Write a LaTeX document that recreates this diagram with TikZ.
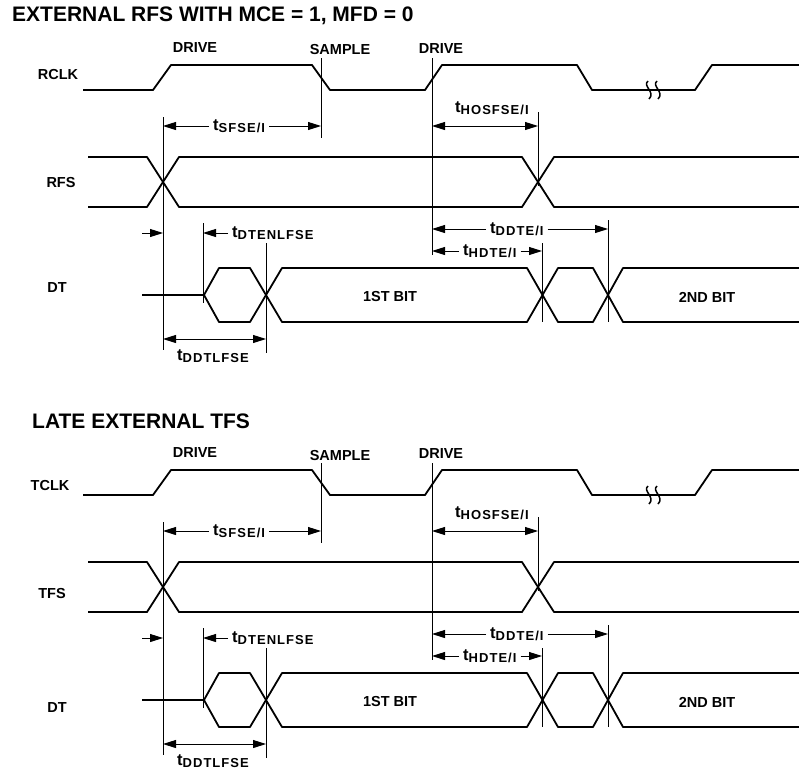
\documentclass[tikz,border=0pt]{standalone}
\usepackage{fontspec}
\setmainfont{Liberation Sans}
\usetikzlibrary{arrows.meta}

% timing parameter name: t with a small subscript
\newcommand\tlabel[1]{{\fontsize{16.5}{18}\selectfont t}\raisebox{-2pt}{\fontsize{13}{14}\selectfont\addfontfeature{LetterSpace=8}#1}}

\begin{document}
\begin{tikzpicture}[
    x=1pt, y=-1pt,
    wave/.style={line width=1.8pt, line join=round},
    guide/.style={line width=0.8pt},
    dimline/.style={line width=0.9pt, -{Triangle[length=13pt,width=8pt]}},
    dimboth/.style={line width=0.9pt, {Triangle[length=13pt,width=8pt]}-{Triangle[length=13pt,width=8pt]}},
    lbl/.style={font=\bfseries\fontsize{14.5}{17}\selectfont},
    tlbl/.style={font=\bfseries, inner sep=4pt, anchor=west},
    ttl/.style={font=\bfseries\fontsize{21}{24}\selectfont, anchor=west, inner sep=0pt}
]
\useasboundingbox (0,0) rectangle (799,769);

\foreach \p/\dy/\tx/\ttltext/\clk/\cx/\cy/\fs/\fx/\fy/\dty in {
    a/0/12/{EXTERNAL RFS WITH MCE = 1, MFD = 0}/RCLK/58/75/RFS/61/183/288,
    b/405/32/{LATE EXTERNAL TFS}/TCLK/50/80/TFS/52/188/302}{
\begin{scope}[yshift=-\dy pt]
    % title and edge names
    \node[ttl] (title\p) at (\tx,16) {\ttltext};
    \node[lbl] (drvA\p) at (195,48) {DRIVE};
    \node[lbl] (smp\p) at (340,50) {SAMPLE};
    \node[lbl] (drvB\p) at (441,49) {DRIVE};

    % signal names
    \node[lbl] (clk\p) at (\cx,\cy) {\clk};
    \node[lbl] (fs\p) at (\fx,\fy) {\fs};
    \node[lbl] (dt\p) at (57,\dty) {DT};

    % clock
    \draw[wave] (83,90) -- (153,90) -- (171,65) -- (312,65) -- (330,90) -- (425,90)
        -- (442,65) -- (577,65) -- (592,90) -- (695,90) -- (712,65) -- (799,65);
    \foreach \bx in {649,658}
        \draw[line width=1.5pt] (\bx-1,81) .. controls (\bx-7,86) and (\bx+7,92) .. (\bx,99);

    % frame sync
    \draw[wave] (88,157) -- (147,157) -- (179,207) -- (522,207) -- (554,157) -- (799,157);
    \draw[wave] (88,207) -- (147,207) -- (179,157) -- (522,157) -- (554,207) -- (799,207);

    % data
    \draw[wave] (142,295) -- (204,295) -- (219,268) -- (250,268) -- (282,322) -- (527,322)
        -- (558,268) -- (593,268) -- (623,322) -- (799,322);
    \draw[wave] (204,295) -- (219,322) -- (250,322) -- (282,268) -- (527,268)
        -- (558,322) -- (593,322) -- (623,268) -- (799,268);
    \node[lbl] (bitA\p) at (390,296) {1ST BIT};
    \node[lbl] (bitB\p) at (707,297) {2ND BIT};

    % reference lines
    \draw[guide] (163,117) -- (163,350);
    \draw[guide] (321,58) -- (321,138);
    \draw[guide] (432,58) -- (432,255);
    \draw[guide] (538,112) -- (538,186);
    \draw[guide] (203,223) -- (203,303);
    \draw[guide] (266,243) -- (266,353);
    \draw[guide] (542,243) -- (542,322);
    \draw[guide] (608,220) -- (608,322);

    % tSFSE/I
    \node[tlbl] (sfse\p) at (209,126) {\tlabel{SFSE/I}};
    \coordinate (sfseL\p) at (163,126);
    \coordinate (sfseR\p) at (321,126);
    \draw[dimline] (sfse\p) -- (sfseL\p);
    \draw[dimline] (sfse\p) -- (sfseR\p);

    % tHOSFSE/I
    \node[tlbl] (hosfse\p) at (451,108) {\tlabel{HOSFSE/I}};
    \coordinate (hosL\p) at (432,126);
    \coordinate (hosR\p) at (538,126);
    \draw[dimboth] (hosL\p) -- (hosR\p);

    % tDTENLFSE
    \node[tlbl] (dten\p) at (228,233) {\tlabel{DTENLFSE}};
    \coordinate (dtenA\p) at (142,233);
    \coordinate (dtenB\p) at (163,233);
    \coordinate (dtenC\p) at (203,233);
    \draw[dimline] (dtenA\p) -- (dtenB\p);
    \draw[dimline] (dten\p) -- (dtenC\p);

    % tDDTLFSE
    \coordinate (ddtL\p) at (163,339);
    \coordinate (ddtR\p) at (266,339);
    \draw[dimboth] (ddtL\p) -- (ddtR\p);
    \node[tlbl, anchor=center] (ddt\p) at (213,356) {\tlabel{DDTLFSE}};

    % tDDTE/I
    \node[tlbl] (ddte\p) at (486,229) {\tlabel{DDTE/I}};
    \coordinate (ddteL\p) at (432,229);
    \coordinate (ddteR\p) at (608,229);
    \draw[dimline] (ddte\p) -- (ddteL\p);
    \draw[dimline] (ddte\p) -- (ddteR\p);

    % tHDTE/I
    \node[tlbl] (hdte\p) at (459,251) {\tlabel{HDTE/I}};
    \coordinate (hdteL\p) at (432,251);
    \coordinate (hdteR\p) at (542,251);
    \draw[dimline] (hdte\p) -- (hdteL\p);
    \draw[dimline] (hdte\p) -- (hdteR\p);
\end{scope}
}
\end{tikzpicture}
\end{document}
